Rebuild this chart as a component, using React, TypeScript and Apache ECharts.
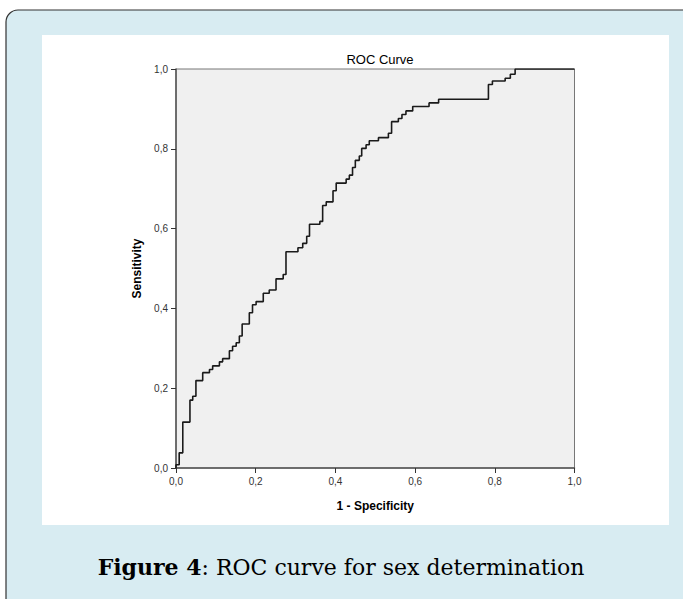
import React, { useEffect, useRef } from "react";
import * as echarts from "echarts";

const titleText = "ROC Curve";
const xAxisName = "1 - Specificity";
const yAxisName = "Sensitivity";
const captionBold = "Figure 4";
const captionRest = ": ROC curve for sex determination";

// ROC curve corner points (1 - specificity, sensitivity)
const fpr = [
  0, 0, 0.008, 0.017, 0.035, 0.042, 0.05, 0.067, 0.084, 0.092, 0.109, 0.117,
  0.134, 0.142, 0.151, 0.159, 0.166, 0.184, 0.192, 0.201, 0.219, 0.234, 0.251,
  0.269, 0.276, 0.306, 0.318, 0.328, 0.335, 0.361, 0.368, 0.377, 0.394, 0.402,
  0.427, 0.435, 0.443, 0.45, 0.46, 0.466, 0.477, 0.485, 0.508, 0.533, 0.541,
  0.558, 0.567, 0.577, 0.594, 0.635, 0.659, 0.784, 0.794, 0.826, 0.839, 0.851,
  1.0,
];
const tpr = [
  0, 0.008, 0.038, 0.115, 0.17, 0.18, 0.219, 0.239, 0.247, 0.256, 0.266, 0.274,
  0.294, 0.305, 0.314, 0.331, 0.361, 0.389, 0.409, 0.417, 0.438, 0.446, 0.474,
  0.485, 0.542, 0.552, 0.563, 0.581, 0.611, 0.618, 0.658, 0.667, 0.695, 0.714,
  0.724, 0.734, 0.753, 0.771, 0.782, 0.801, 0.81, 0.82, 0.828, 0.839, 0.868,
  0.876, 0.886, 0.895, 0.906, 0.915, 0.924, 0.961, 0.97, 0.977, 0.987, 1.0,
  1.0,
];
const tickValues = [0, 0.2, 0.4, 0.6, 0.8, 1.0];

export default function App() {
  const ref = useRef<HTMLDivElement>(null);
  useEffect(() => {
    if (!ref.current) return;
    const chart = echarts.init(ref.current, null, { renderer: "svg" });
    const fmt = (v: number) => v.toFixed(1).replace(".", ",");
    const axisCommon = {
      type: "value" as const,
      min: tickValues[0],
      max: tickValues[tickValues.length - 1],
      interval: 0.2,
      splitLine: { show: false },
      axisLine: { show: true, lineStyle: { color: "#555", width: 1.5 } },
      axisTick: { show: true, inside: false, length: 5, lineStyle: { color: "#333", width: 1 } },
      axisLabel: {
        formatter: fmt,
        color: "#333",
        fontSize: 10,
        fontFamily: "Liberation Sans, Arial, sans-serif",
      },
      nameLocation: "middle" as const,
      nameTextStyle: {
        color: "#000",
        fontSize: 12,
        fontWeight: "bold" as const,
        fontFamily: "Liberation Sans, Arial, sans-serif",
      },
    };
    chart.setOption({
      animation: false,
      backgroundColor: "#ffffff",
      title: {
        text: titleText,
        left: 375,
        top: 48,
        textAlign: "center",
        textStyle: {
          fontSize: 13,
          fontWeight: "normal",
          color: "#000",
          fontFamily: "Liberation Sans, Arial, sans-serif",
        },
      },
      graphic: [
        {
          type: "rect",
          z: -100,
          silent: true,
          shape: { x: 6, y: 10, width: 720, height: 640, r: [12, 0, 0, 0] },
          style: { fill: "#d8ecf2", stroke: "#333", lineWidth: 1.2 },
        },
        {
          type: "rect",
          z: -99,
          silent: true,
          shape: { x: 42, y: 35, width: 627, height: 490 },
          style: { fill: "#ffffff" },
        },
        {
          type: "text",
          z: 10,
          x: 341,
          y: 567,
          style: {
            text: `{b|${captionBold}}{n|${captionRest}}`,
            align: "center",
            verticalAlign: "middle",
            rich: {
              b: { fontFamily: "DejaVu Serif, serif", fontSize: 22, fontWeight: "bold", fill: "#000" },
              n: { fontFamily: "DejaVu Serif, serif", fontSize: 22, fill: "#000" },
            },
          },
        },
      ],
      grid: {
        left: 176,
        top: 69,
        width: 398.5,
        height: 399,
        show: true,
        backgroundColor: "#f0f0f0",
        borderColor: "#777",
        borderWidth: 1,
      },
      xAxis: { ...axisCommon, name: xAxisName, nameGap: 32 },
      yAxis: { ...axisCommon, name: yAxisName, nameGap: 29 },
      series: [
        {
          type: "line",
          data: fpr.map((x, i) => [x, tpr[i]]),
          step: "end",
          showSymbol: false,
          symbol: "none",
          lineStyle: { color: "#1a1a1a", width: 1.6 },
          z: 5,
        },
      ],
    });
    return () => chart.dispose();
  }, []);
  return (
    <div
      ref={ref}
      style={{ position: "fixed", left: 0, top: 0, width: 683, height: 599 }}
    />
  );
}
